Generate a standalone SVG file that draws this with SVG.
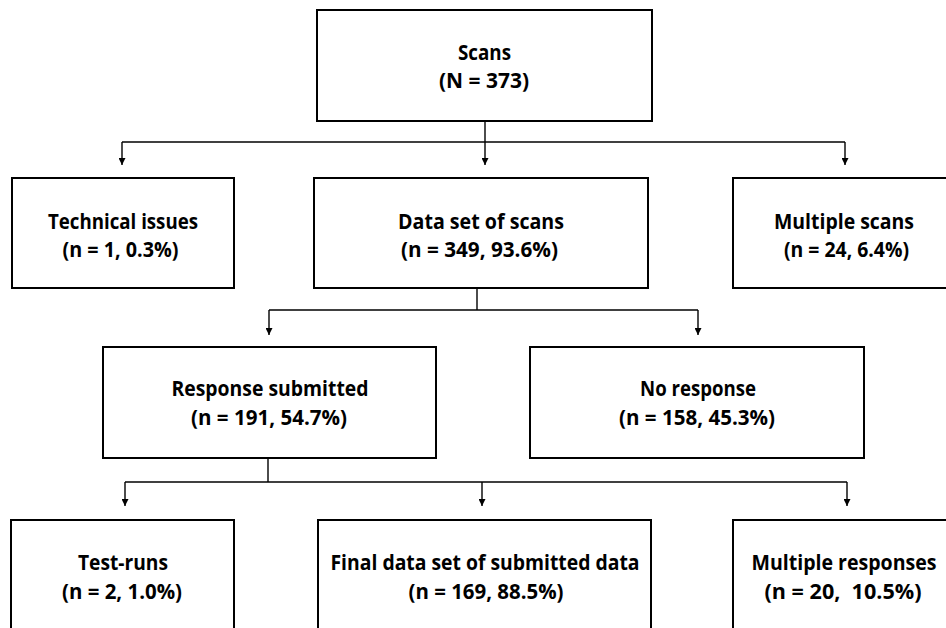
<svg xmlns="http://www.w3.org/2000/svg" width="946" height="628" viewBox="0 0 946 628">
<style>
.box{fill:#fff;stroke:#000;stroke-width:2}
.t{font-family:"Open Sans","Liberation Sans",sans-serif;font-weight:bold;font-size:21px;fill:#000;text-anchor:middle}
.c{fill:none;stroke:#000;stroke-width:1.4}
</style>
<defs>
<marker id="ah" viewBox="0 0 8 8" refX="8" refY="4" markerWidth="7" markerHeight="7" markerUnits="userSpaceOnUse" orient="auto">
<path d="M0,0 L8,4 L0,8 z" fill="#000"/>
</marker>
</defs>
<rect width="946" height="628" fill="#fff"/>
<g id="connectors">
<path class="c" d="M485,121 V165" marker-end="url(#ah)"/>
<path class="c" d="M122,142 H845"/>
<path class="c" d="M122,142 V165" marker-end="url(#ah)"/>
<path class="c" d="M845,142 V165" marker-end="url(#ah)"/>
<path class="c" d="M477,289 V310"/>
<path class="c" d="M269,310 H698"/>
<path class="c" d="M269,310 V335" marker-end="url(#ah)"/>
<path class="c" d="M698,310 V335" marker-end="url(#ah)"/>
<path class="c" d="M268,458 V482"/>
<path class="c" d="M125,482 H847"/>
<path class="c" d="M125,482 V506" marker-end="url(#ah)"/>
<path class="c" d="M482,482 V506" marker-end="url(#ah)"/>
<path class="c" d="M847,482 V506" marker-end="url(#ah)"/>
</g>
<g id="scans">
<rect class="box" x="317" y="10" width="335" height="111"/>
<text class="t" x="484.5" y="60" textLength="53" lengthAdjust="spacingAndGlyphs">Scans</text>
<text class="t" x="484" y="88" textLength="90" lengthAdjust="spacingAndGlyphs">(N = 373)</text>
</g>
<g id="technical">
<rect class="box" x="12" y="178" width="222" height="110"/>
<text class="t" x="123" y="229" textLength="150" lengthAdjust="spacingAndGlyphs">Technical issues</text>
<text class="t" x="120.5" y="257" textLength="116" lengthAdjust="spacingAndGlyphs">(n = 1, 0.3%)</text>
</g>
<g id="dataset">
<rect class="box" x="314" y="178" width="334" height="110"/>
<text class="t" x="481" y="229" textLength="166" lengthAdjust="spacingAndGlyphs">Data set of scans</text>
<text class="t" x="479.5" y="257" textLength="157" lengthAdjust="spacingAndGlyphs">(n = 349, 93.6%)</text>
</g>
<g id="multiscans">
<rect class="box" x="733" y="178" width="222" height="110"/>
<text class="t" x="844" y="229" textLength="140" lengthAdjust="spacingAndGlyphs">Multiple scans</text>
<text class="t" x="846.5" y="257" textLength="125" lengthAdjust="spacingAndGlyphs">(n = 24, 6.4%)</text>
</g>
<g id="response">
<rect class="box" x="103" y="347" width="333" height="111"/>
<text class="t" x="270" y="396" textLength="197" lengthAdjust="spacingAndGlyphs">Response submitted</text>
<text class="t" x="269" y="425" textLength="156" lengthAdjust="spacingAndGlyphs">(n = 191, 54.7%)</text>
</g>
<g id="noresponse">
<rect class="box" x="530" y="347" width="334" height="111"/>
<text class="t" x="698" y="396" textLength="116" lengthAdjust="spacingAndGlyphs">No response</text>
<text class="t" x="697" y="425" textLength="156" lengthAdjust="spacingAndGlyphs">(n = 158, 45.3%)</text>
</g>
<g id="testruns">
<rect class="box" x="11" y="520" width="223" height="120"/>
<text class="t" x="123" y="570" textLength="90" lengthAdjust="spacingAndGlyphs">Test-runs</text>
<text class="t" x="122" y="599" textLength="120" lengthAdjust="spacingAndGlyphs">(n = 2, 1.0%)</text>
</g>
<g id="final">
<rect class="box" x="318" y="520" width="333" height="120"/>
<text class="t" x="485" y="570" textLength="309" lengthAdjust="spacingAndGlyphs">Final data set of submitted data</text>
<text class="t" x="486" y="599" textLength="155" lengthAdjust="spacingAndGlyphs">(n = 169, 88.5%)</text>
</g>
<g id="multiresponses">
<rect class="box" x="733" y="520" width="222" height="120"/>
<text class="t" x="844" y="570" textLength="185" lengthAdjust="spacingAndGlyphs">Multiple responses</text>
<text class="t" x="843" y="599" textLength="157" lengthAdjust="spacingAndGlyphs" xml:space="preserve">(n = 20,  10.5%)</text>
</g>
</svg>
